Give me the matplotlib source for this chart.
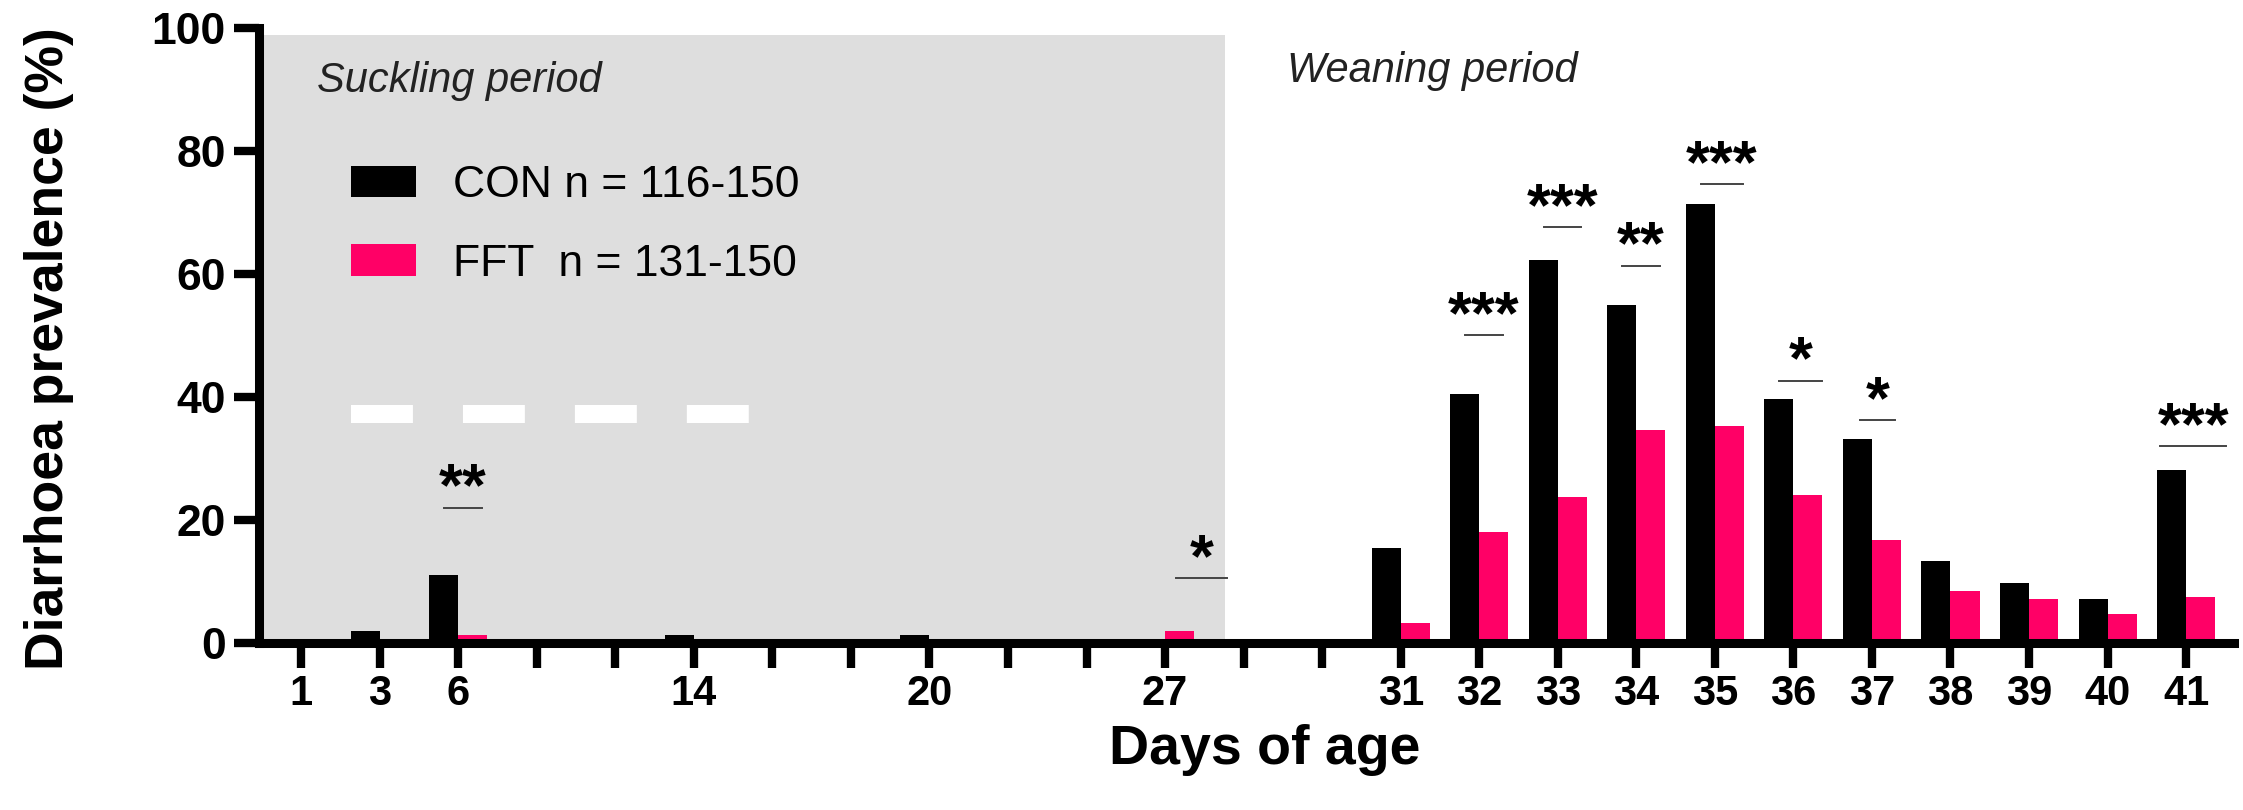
import numpy as np
import matplotlib
matplotlib.use("Agg")
import matplotlib.pyplot as plt
from matplotlib.patches import Patch

plt.rcParams['font.family'] = ['Liberation Sans', 'DejaVu Sans']

# ---------------- data ----------------
day_labels = ['1', '3', '6', '', '', '14', '', '', '20', '', '', '27', '', '',
              '31', '32', '33', '34', '35', '36', '37', '38', '39', '40', '41']
con_values = [0, 2.0, 11.0, 0, 0, 1.3, 0, 0, 1.3, 0, 0, 0, 0, 0,
              15.5, 40.5, 62.2, 55.0, 71.3, 39.6, 33.1, 13.3, 9.8, 7.2, 28.2]
fft_values = [0, 0, 1.3, 0, 0, 0, 0, 0, 0, 0, 0, 2.0, 0, 0,
              3.3, 18.0, 23.8, 34.7, 35.2, 24.0, 16.8, 8.4, 7.2, 4.7, 7.5]
series_names = ['CON n = 116-150', 'FFT  n = 131-150']

# significance marks: category index, stars, bar-line level (%)
sig_index = [2, 11, 15, 16, 17, 18, 19, 20, 24]
sig_stars = ['**', '*', '***', '***', '**', '***', '*', '*', '***']
sig_level = [22.0, 10.5, 50.0, 67.6, 61.3, 74.6, 42.6, 36.2, 32.0]
sig_left = [-0.18, 0.14, -0.18, -0.18, -0.18, -0.18, -0.18, -0.15, -0.33]
sig_right = [0.30, 0.79, 0.30, 0.30, 0.30, 0.36, 0.36, 0.29, 0.51]

suckling_end = 11.76   # end of shaded suckling period (category units)

CON_COLOR = '#000000'
FFT_COLOR = '#FF0066'

# ---------------- figure ----------------
fig = plt.figure(figsize=(22.43, 8.10), dpi=100)
ax = fig.add_axes([0.1155, 0.2062, 0.8805, 0.7593])

x = np.arange(len(day_labels))
w = 0.37
xlo, xhi = -0.535, 24.61

ax.axvspan(xlo, suckling_end, ymin=0, ymax=0.988, color='#DEDEDE', lw=0, zorder=0)

ax.bar(x - w / 2, con_values, w, color=CON_COLOR, lw=0, zorder=2)
ax.bar(x + w / 2, fft_values, w, color=FFT_COLOR, lw=0, zorder=2)

# white dashed artefact in the suckling area
ax.plot([0.0466, 0.2481], [37.2, 37.2], transform=ax.get_yaxis_transform(),
        color='white', lw=13, dashes=(3.43, 2.77), dash_capstyle='butt',
        solid_capstyle='butt', zorder=1)

# significance
for i, s, lvl, l, r in zip(sig_index, sig_stars, sig_level, sig_left, sig_right):
    ax.plot([i + l, i + r], [lvl, lvl], color='#444444', lw=1.4, zorder=3)
    ax.text(i + (l + r) / 2, lvl + 0.4, s, ha='center', va='baseline',
            fontsize=44, fontweight='bold', color='black', zorder=3)

ax.set_xlim(xlo, xhi)
ax.set_ylim(0, 100)
ax.set_xticks(x)
ax.set_xticklabels(day_labels, fontsize=30, fontweight='bold')
ax.set_yticks([0, 20, 40, 60, 80, 100])
ax.set_yticklabels(['0', '20', '40', '60', '80', '100'], fontsize=32, fontweight='bold')

for sp in ['top', 'right']:
    ax.spines[sp].set_visible(False)
for sp in ['left', 'bottom']:
    ax.spines[sp].set_linewidth(6.5)
ax.spines['left'].set_bounds(0, 100)
ax.tick_params(axis='both', length=18, width=6, color='black')
ax.tick_params(axis='x', pad=4)
ax.tick_params(axis='y', pad=6)

handles = [Patch(facecolor=CON_COLOR, lw=0), Patch(facecolor=FFT_COLOR, lw=0)]
ax.legend(handles, series_names, loc='upper left', bbox_to_anchor=(0.0466, 0.777),
          frameon=False, prop={'family': 'Liberation Sans', 'size': 32},
          handlelength=1.45, handleheight=0.72, handletextpad=0.85,
          labelspacing=0.85, borderpad=0, borderaxespad=0)

ax.text(0.0294, 0.914, 'Suckling period', transform=ax.transAxes, ha='left',
        va='center', fontsize=30, style='italic', color='#222222')
ax.text(0.5205, 0.930, 'Weaning period', transform=ax.transAxes, ha='left',
        va='center', fontsize=30, style='italic', color='#222222')

fig.text(0.022, 0.57, 'Diarrhoea prevalence (%)', rotation=90, ha='center',
         va='center', fontsize=38.5, fontweight='bold')
fig.text(0.564, 0.074, 'Days of age', ha='center', va='center',
         fontsize=40, fontweight='bold')

fig.savefig('out.png', dpi=100)
